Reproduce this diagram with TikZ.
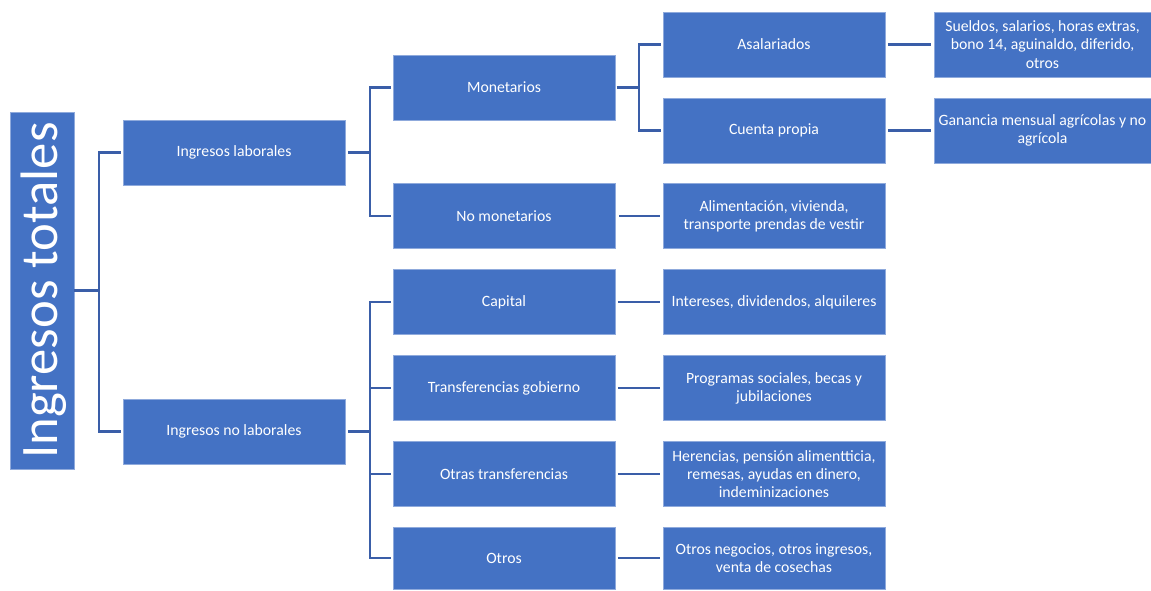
\documentclass[tikz,border=0pt]{standalone}
\usepackage{fontspec}
\setmainfont{Carlito}
\definecolor{boxblue}{HTML}{4472C4}
\definecolor{boxedge}{HTML}{8FAADC}
\definecolor{linkblue}{HTML}{3A5EA8}
\begin{document}
\begin{tikzpicture}[x=0.75pt,y=-0.75pt,
  box/.style={fill=boxblue,draw=boxedge,line width=0.4pt,text=white,align=center,
    font=\fontsize{11.8}{13.6}\selectfont,inner sep=0pt,
    minimum width=166.5pt,minimum height=48.75pt},
  conn/.style={draw=linkblue,line width=1.8pt}]
\useasboundingbox (0,0) rectangle (1151,590);
% root
\node[fill=boxblue,draw=boxedge,line width=0.4pt,minimum width=48pt,minimum height=267.75pt,inner sep=0pt] (root) at (42,290.5) {};
\node[rotate=90,text=white,font=\fontsize{39.5}{40}\selectfont,inner sep=0pt] (roottxt) at (44,290.5) {Ingresos totales};
% level 1
\node[box] (lab) at (234,152.5) {Ingresos laborales};
\node[box] (nolab) at (234,431.5) {Ingresos no laborales};
% level 2
\node[box] (mon) at (504,87.5) {Monetarios};
\node[box] (nomon) at (504,216) {No monetarios};
\node[box] (cap) at (504,302) {Capital};
\node[box] (trg) at (504,388) {Transferencias gobierno};
\node[box] (otr) at (504,474) {Otras transferencias};
\node[box,minimum height=46.5pt] (otros) at (504,558) {Otros};
% level 3
\node[box] (asal) at (774,44.5) {Asalariados};
\node[box] (cta) at (774,130.5) {Cuenta propia};
\node[box] (alim) at (774,216) {Alimentación, vivienda,\\transporte prendas de vestir};
\node[box] (int) at (774,302) {Intereses, dividendos, alquileres};
\node[box] (prog) at (774,388) {Programas sociales, becas y\\jubilaciones};
\node[box] (her) at (774,474) {Herencias, pensión alimentticia,\\remesas, ayudas en dinero,\\indeminizaciones};
\node[box,minimum height=46.5pt] (neg) at (774,558) {Otros negocios, otros ingresos,\\venta de cosechas};
% level 4
\node[box,minimum width=162.75pt] (sue) at (1042.5,44.5) {Sueldos, salarios, horas extras,\\bono 14, aguinaldo, diferido,\\otros};
\node[box,minimum width=162.75pt] (gan) at (1042.5,130.5) {Ganancia mensual agrícolas y no\\agrícola};
% trunk coordinates
\coordinate (t0) at (99,0);
\coordinate (t1) at (370,0);
\coordinate (t2) at (639,0);
% root -> level 1
\draw[conn] (root.east) -- (t0 |- root.east);
\draw[conn] ([xshift=-1.5pt]lab.west) -| (t0 |- root.east) |- ([xshift=-1.5pt]nolab.west);
% laborales -> level 2
\draw[conn] ([xshift=2pt]lab.east) -- (t1 |- lab.east);
\draw[conn] ([xshift=-1.5pt]mon.west) -| (t1 |- lab.east) |- ([xshift=-1.5pt]nomon.west);
% no laborales -> level 2
\draw[conn] ([xshift=2pt]nolab.east) -- (t1 |- nolab.east);
\draw[conn] ([xshift=-1.5pt]cap.west) -| (t1 |- nolab.east) |- ([xshift=-1.5pt]otros.west);
\draw[conn] ([xshift=-1.5pt]trg.west) -- (t1 |- trg.west);
\draw[conn] ([xshift=-1.5pt]otr.west) -- (t1 |- otr.west);
% monetarios -> level 3
\draw[conn] ([xshift=1pt]mon.east) -- (t2 |- mon.east);
\draw[conn] ([xshift=-1.5pt]asal.west) -| (t2 |- mon.east) |- ([xshift=-1.5pt]cta.west);
% direct links
\draw[conn] ([xshift=3pt]nomon.east) -- ([xshift=-2pt]alim.west);
\draw[conn] ([xshift=2pt]cap.east) -- ([xshift=-2pt]int.west);
\draw[conn] ([xshift=2pt]trg.east) -- ([xshift=-2pt]prog.west);
\draw[conn] ([xshift=2pt]otr.east) -- ([xshift=-2pt]her.west);
\draw[conn] ([xshift=2pt]otros.east) -- ([xshift=-2pt]neg.west);
\draw[conn] ([xshift=2pt]asal.east) -- ([xshift=-2pt]sue.west);
\draw[conn] ([xshift=2pt]cta.east) -- ([xshift=-2pt]gan.west);
\end{tikzpicture}
\end{document}
